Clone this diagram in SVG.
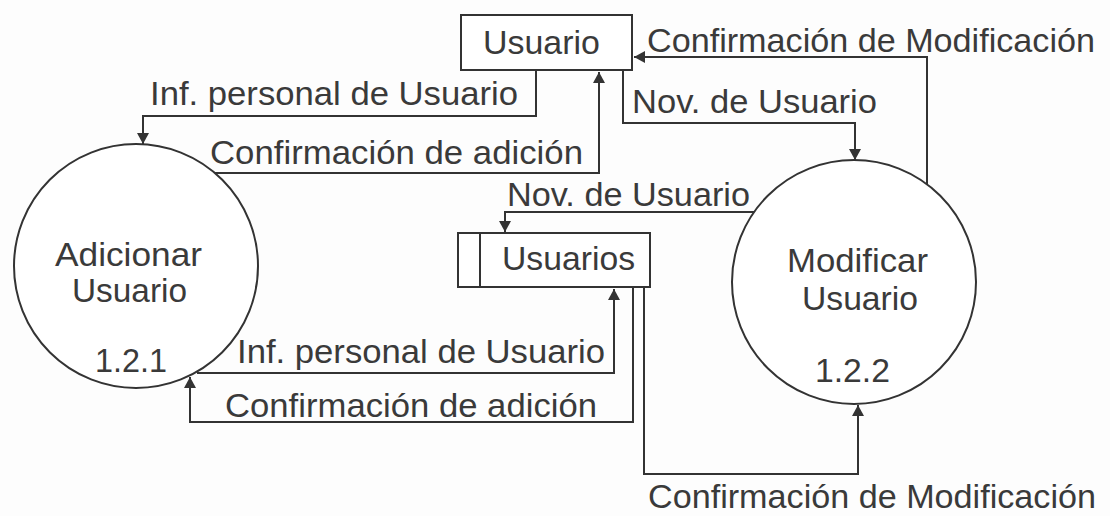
<svg xmlns="http://www.w3.org/2000/svg" width="1110" height="516" viewBox="0 0 1110 516">
<style>
.t{font-family:"Liberation Sans",Arial,sans-serif;font-size:34px;fill:#3a3a3a}
.s{fill:#fff;stroke:#333;stroke-width:2}
.c{fill:none;stroke:#333;stroke-width:2}
</style>
<defs>
<marker id="ar" viewBox="0 0 12 12" refX="11" refY="6" markerWidth="12" markerHeight="12" markerUnits="userSpaceOnUse" orient="auto">
<path d="M0,0 L11,6 L0,12 Z" fill="#333"/>
</marker>
</defs>
<rect width="1110" height="516" fill="#fdfdfd"/>
<g id="connectors">
<polyline class="c" points="927,184 927,57 634,57" marker-end="url(#ar)"/>
<polyline class="c" points="623,70 623,123 855,123 855,160" marker-end="url(#ar)"/>
<polyline class="c" points="536,70 536,116 143,116 143,144" marker-end="url(#ar)"/>
<polyline class="c" points="214,173 599,173 599,72" marker-end="url(#ar)"/>
<polyline class="c" points="754,212 505,212 505,232" marker-end="url(#ar)"/>
<polyline class="c" points="197,373 614,373 614,289" marker-end="url(#ar)"/>
<polyline class="c" points="633,287 633,422 190,422 190,377" marker-end="url(#ar)"/>
<polyline class="c" points="644,287 644,474 858,474 858,405" marker-end="url(#ar)"/>
<text class="t" x="647" y="52" textLength="448" lengthAdjust="spacingAndGlyphs">Confirmación de Modificación</text>
<text class="t" x="632" y="113" textLength="245" lengthAdjust="spacingAndGlyphs">Nov. de Usuario</text>
<text class="t" x="150" y="105" textLength="368" lengthAdjust="spacingAndGlyphs">Inf. personal de Usuario</text>
<text class="t" x="210" y="164" textLength="373" lengthAdjust="spacingAndGlyphs">Confirmación de adición</text>
<text class="t" x="507" y="206" textLength="243" lengthAdjust="spacingAndGlyphs">Nov. de Usuario</text>
<text class="t" x="237" y="363" textLength="368" lengthAdjust="spacingAndGlyphs">Inf. personal de Usuario</text>
<text class="t" x="225" y="417" textLength="372" lengthAdjust="spacingAndGlyphs">Confirmación de adición</text>
<text class="t" x="648" y="508" textLength="448" lengthAdjust="spacingAndGlyphs">Confirmación de Modificación</text>
</g>
<g id="usuario">
<rect class="s" x="461" y="15" width="171" height="55"/>
<text class="t" x="483" y="54" textLength="117" lengthAdjust="spacingAndGlyphs">Usuario</text>
</g>
<g id="usuarios">
<rect class="s" x="458" y="233" width="192" height="54"/>
<line class="c" x1="480" y1="233" x2="480" y2="287"/>
<text class="t" x="502" y="270" textLength="133" lengthAdjust="spacingAndGlyphs">Usuarios</text>
</g>
<g id="adicionar">
<circle class="s" cx="136" cy="266" r="122"/>
<text class="t" x="55" y="266" textLength="147" lengthAdjust="spacingAndGlyphs">Adicionar</text>
<text class="t" x="72" y="302" textLength="115" lengthAdjust="spacingAndGlyphs">Usuario</text>
<text class="t" x="95" y="372" textLength="72" lengthAdjust="spacingAndGlyphs">1.2.1</text>
</g>
<g id="modificar">
<circle class="s" cx="854" cy="282" r="122"/>
<text class="t" x="787" y="272" textLength="141" lengthAdjust="spacingAndGlyphs">Modificar</text>
<text class="t" x="802" y="310" textLength="116" lengthAdjust="spacingAndGlyphs">Usuario</text>
<text class="t" x="815" y="382" textLength="75" lengthAdjust="spacingAndGlyphs">1.2.2</text>
</g>
</svg>
